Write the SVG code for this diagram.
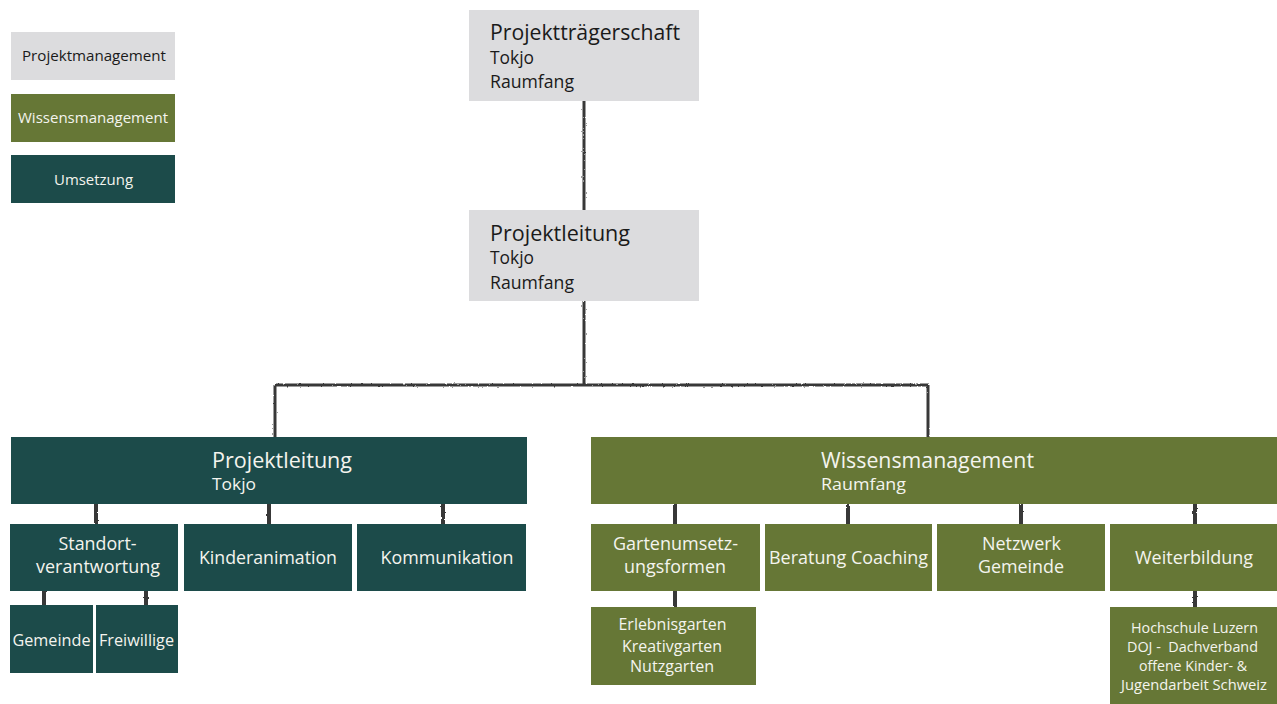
<svg xmlns="http://www.w3.org/2000/svg" width="1277" height="704" viewBox="0 0 1277 704">
<style>
.pm{fill:#dcdcde}
.wm{fill:#667736}
.um{fill:#1c4b4a}
text{font-family:"Open Sans","Noto Sans",sans-serif}
.dk{fill:#1a1a1a}
.lt{fill:#f4f4ee}
.c{text-anchor:middle}
.con{fill:none;stroke:#383838;stroke-width:3;stroke-linecap:butt}
.sh{fill:none;stroke:#383838;stroke-width:4}
</style>
<defs>
<filter id="rough" filterUnits="userSpaceOnUse" x="0" y="0" width="1277" height="704">
<feTurbulence type="fractalNoise" baseFrequency="0.35" numOctaves="2" seed="3"/>
<feDisplacementMap in="SourceGraphic" scale="2.2" xChannelSelector="R" yChannelSelector="G"/>
</filter>
</defs>

<g id="connectors" filter="url(#rough)">
<path class="con" d="M584 101 V210"/>
<path class="con" d="M584 301 V385"/>
<path class="con" d="M275 385 H928"/>
<path class="con" d="M275 385 V437"/>
<path class="con" d="M928 385 V437"/>
<path class="sh" d="M96 504 V524 M269 504 V524 M443 504 V524"/>
<path class="sh" d="M44 591 V605 M146 591 V605"/>
<path class="sh" d="M675 504 V524 M848 504 V524 M1021 504 V524 M1195 504 V524"/>
<path class="sh" d="M675 591 V607 M1195 591 V607"/>
</g>

<g id="legend-projektmanagement">
<rect class="pm" x="11" y="32" width="164" height="48"/>
<text class="dk c" x="94" y="61" font-size="15" textLength="144" lengthAdjust="spacingAndGlyphs">Projektmanagement</text>
</g>
<g id="legend-wissensmanagement">
<rect class="wm" x="11" y="94" width="164" height="48"/>
<text class="lt c" x="93" y="123" font-size="15" textLength="150" lengthAdjust="spacingAndGlyphs">Wissensmanagement</text>
</g>
<g id="legend-umsetzung">
<rect class="um" x="11" y="155" width="164" height="48"/>
<text class="lt c" x="93.5" y="185" font-size="15" textLength="79" lengthAdjust="spacingAndGlyphs">Umsetzung</text>
</g>

<g id="projekttraegerschaft">
<rect class="pm" x="469" y="10" width="230" height="91"/>
<text class="dk" x="490" y="40" font-size="22" textLength="190" lengthAdjust="spacingAndGlyphs">Projektträgerschaft</text>
<text class="dk" x="490" y="64" font-size="18" textLength="44" lengthAdjust="spacingAndGlyphs">Tokjo</text>
<text class="dk" x="490" y="88" font-size="18" textLength="84" lengthAdjust="spacingAndGlyphs">Raumfang</text>
</g>

<g id="projektleitung-top">
<rect class="pm" x="469" y="210" width="230" height="91"/>
<text class="dk" x="490" y="241" font-size="22" textLength="140" lengthAdjust="spacingAndGlyphs">Projektleitung</text>
<text class="dk" x="490" y="264" font-size="18" textLength="44" lengthAdjust="spacingAndGlyphs">Tokjo</text>
<text class="dk" x="490" y="289" font-size="18" textLength="84" lengthAdjust="spacingAndGlyphs">Raumfang</text>
</g>

<g id="projektleitung-tokjo">
<rect class="um" x="11" y="437" width="516" height="67"/>
<text class="lt" x="212" y="468" font-size="22" textLength="140" lengthAdjust="spacingAndGlyphs">Projektleitung</text>
<text class="lt" x="212" y="490" font-size="17" textLength="44" lengthAdjust="spacingAndGlyphs">Tokjo</text>
</g>

<g id="standortverantwortung">
<rect class="um" x="10" y="524" width="168" height="67"/>
<text class="lt c" x="97.5" y="550" font-size="18" textLength="78" lengthAdjust="spacingAndGlyphs">Standort-</text>
<text class="lt c" x="98" y="573" font-size="18" textLength="124" lengthAdjust="spacingAndGlyphs">verantwortung</text>
</g>
<g id="kinderanimation">
<rect class="um" x="184" y="524" width="168" height="67"/>
<text class="lt c" x="268" y="564" font-size="18" textLength="138" lengthAdjust="spacingAndGlyphs">Kinderanimation</text>
</g>
<g id="kommunikation">
<rect class="um" x="357" y="524" width="169" height="67"/>
<text class="lt c" x="447" y="564" font-size="18" textLength="133" lengthAdjust="spacingAndGlyphs">Kommunikation</text>
</g>
<g id="gemeinde">
<rect class="um" x="10" y="605" width="83" height="68"/>
<text class="lt c" x="51.5" y="646" font-size="17" textLength="78" lengthAdjust="spacingAndGlyphs">Gemeinde</text>
</g>
<g id="freiwillige">
<rect class="um" x="96" y="605" width="82" height="68"/>
<text class="lt c" x="136.5" y="646" font-size="17" textLength="75" lengthAdjust="spacingAndGlyphs">Freiwillige</text>
</g>

<g id="wissensmanagement-raumfang">
<rect class="wm" x="591" y="437" width="686" height="67"/>
<text class="lt" x="821" y="468" font-size="22" textLength="213" lengthAdjust="spacingAndGlyphs">Wissensmanagement</text>
<text class="lt" x="821" y="490" font-size="17" textLength="85" lengthAdjust="spacingAndGlyphs">Raumfang</text>
</g>

<g id="gartenumsetzungsformen">
<rect class="wm" x="591" y="524" width="169" height="67"/>
<text class="lt c" x="675.5" y="550" font-size="18" textLength="125" lengthAdjust="spacingAndGlyphs">Gartenumsetz-</text>
<text class="lt c" x="675" y="573" font-size="18" textLength="102" lengthAdjust="spacingAndGlyphs">ungsformen</text>
</g>
<g id="beratung-coaching">
<rect class="wm" x="765" y="524" width="167" height="67"/>
<text class="lt c" x="848.5" y="564" font-size="18" textLength="159" lengthAdjust="spacingAndGlyphs">Beratung Coaching</text>
</g>
<g id="netzwerk-gemeinde">
<rect class="wm" x="937" y="524" width="168" height="67"/>
<text class="lt c" x="1021.5" y="550" font-size="18" textLength="79" lengthAdjust="spacingAndGlyphs">Netzwerk</text>
<text class="lt c" x="1021" y="573" font-size="18" textLength="86" lengthAdjust="spacingAndGlyphs">Gemeinde</text>
</g>
<g id="weiterbildung">
<rect class="wm" x="1110" y="524" width="167" height="67"/>
<text class="lt c" x="1194" y="564" font-size="18" textLength="118" lengthAdjust="spacingAndGlyphs">Weiterbildung</text>
</g>

<g id="gartenformen">
<rect class="wm" x="591" y="607" width="165" height="78"/>
<text class="lt c" x="672.5" y="630" font-size="16" textLength="108" lengthAdjust="spacingAndGlyphs">Erlebnisgarten</text>
<text class="lt c" x="672" y="652" font-size="16" textLength="100" lengthAdjust="spacingAndGlyphs">Kreativgarten</text>
<text class="lt c" x="672" y="672" font-size="16" textLength="84" lengthAdjust="spacingAndGlyphs">Nutzgarten</text>
</g>

<g id="weiterbildung-partner">
<rect class="wm" x="1110" y="607" width="167" height="97"/>
<text class="lt c" x="1194.5" y="633" font-size="14.5" textLength="127" lengthAdjust="spacingAndGlyphs">Hochschule Luzern</text>
<text class="lt c" x="1192.5" y="652" font-size="14.5" textLength="131" lengthAdjust="spacingAndGlyphs" xml:space="preserve">DOJ -  Dachverband</text>
<text class="lt c" x="1193" y="671" font-size="14.5" textLength="108" lengthAdjust="spacingAndGlyphs">offene Kinder- &amp;</text>
<text class="lt c" x="1194" y="690" font-size="14.5" textLength="146" lengthAdjust="spacingAndGlyphs">Jugendarbeit Schweiz</text>
</g>
</svg>
